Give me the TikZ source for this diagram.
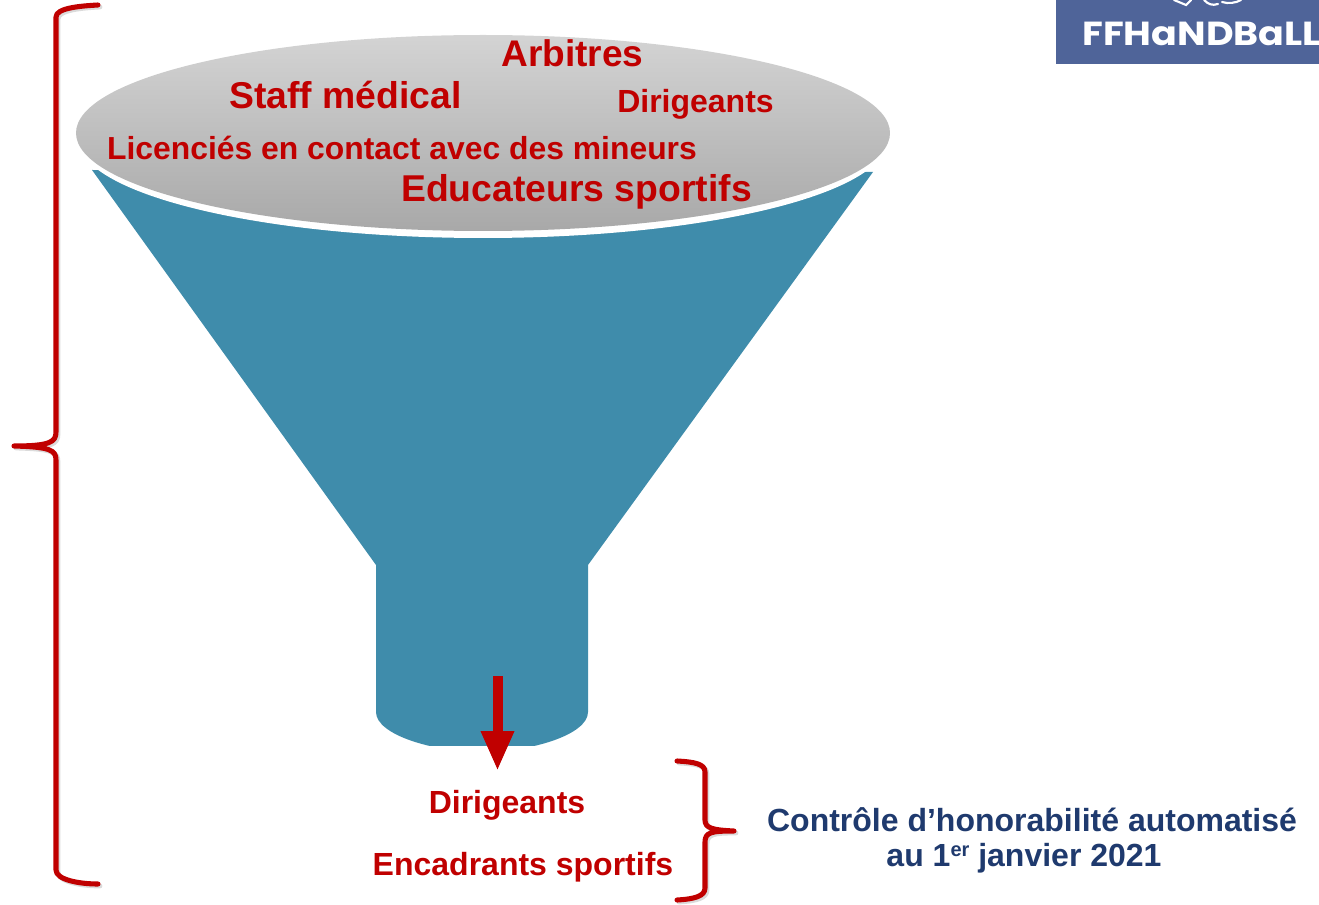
\documentclass[tikz,border=0pt]{standalone}
\usepackage{fontspec}
\setmainfont{Liberation Sans}
\newfontfamily\logofont{Poppins}
\usetikzlibrary{arrows.meta}
\definecolor{fred}{HTML}{C00000}
\definecolor{fblue}{HTML}{3F8CAB}
\definecolor{fnavy}{HTML}{1F3A6E}
\definecolor{flogo}{HTML}{4F6499}
\newcommand{\fsz}[1]{\fontsize{#1}{#1}\selectfont\bfseries}
\tikzset{
  x=0.75pt,y=-0.75pt,
  lab/.style={inner sep=0pt,text=fred,anchor=base},
  bracepath/.style={draw=fred,line width=3.8pt,line join=round,line cap=round},
  braceshadow/.style={draw=black!14,line width=3.6pt,line join=round,line cap=round},
}
\begin{document}
\begin{tikzpicture}
\useasboundingbox (0,0) rectangle (1319,905);
% logo
\fill[flogo] (1056,0) rectangle (1319,64);
\draw[white,line width=1.6pt,line cap=round] (1174,0) -- (1186,5) -- (1191,0);
\draw[white,line width=1.6pt,line cap=round] (1204,0) .. controls (1208,4) and (1212,6) .. (1218,4);
\draw[white,line width=1.6pt,line cap=round] (1222,2) .. controls (1228,4) and (1236,3) .. (1241,0);
\begin{scope}
\clip (1056,0) rectangle (1319,64);
\node[inner sep=0pt,anchor=base west,text=white] (logo) at (1082,46) {\scalebox{1.14}[1]{\logofont\fontsize{25}{25}\selectfont\bfseries FFHaNDBaLL}};
\end{scope}
% funnel
\begin{scope}
\clip (0,0) rectangle (1319,745);
\fill[fblue] (92,170) -- (873,172) -- (588,565) -- (588,712)
  .. controls (588,735) and (530,752) .. (482,752)
  .. controls (434,752) and (376,735) .. (376,712)
  -- (376,565) -- cycle;
\end{scope}
\fill[white] (483,139) ellipse [x radius=405,y radius=99];
\shade[top color=black!17,bottom color=black!34] (483,133) ellipse [x radius=407,y radius=98];
% texts
\node[lab] (arb) at (572.5,67) {\fsz{27.8}Arbitres};
\node[lab] (staff) at (345.5,109) {\fsz{28}Staff médical};
\node[lab] (dir) at (695.5,113) {\fsz{24}Dirigeants};
\node[lab] (lic) at (402,160) {\fsz{23.9}Licenciés en contact avec des mineurs};
\node[lab] (edu) at (576.5,202) {\fsz{28}Educateurs sportifs};
\node[lab] (dir2) at (507,813) {\fsz{24}Dirigeants};
\node[lab] (enc) at (523,875) {\fsz{24}Encadrants sportifs};
\node[inner sep=0pt,text=fnavy,align=center,anchor=base] (ctrl) at (1032,831)
  {\fsz{24}Contrôle d’honorabilité automatisé};
\node[inner sep=0pt,text=fnavy,anchor=base] (date) at (1024,866)
  {\fsz{24}au 1\raisebox{0.55ex}{\fontsize{15}{15}\selectfont er} janvier 2021};
% arrow
\coordinate (arrowtop) at (497.5,676);
\coordinate (arrowend) at (497.5,771);
\draw[fred,line width=7.5pt,-{Triangle[length=30pt,width=23pt]}] (arrowtop) -- (arrowend);
% braces
\foreach \st/\dx in {braceshadow/2,bracepath/0}{
\draw[\st,xshift=\dx*0.75pt,yshift=-\dx*0.75pt] (98,5) .. controls (80,6) and (56,8) .. (56,17) -- (56,432)
  .. controls (56,442) and (50,446) .. (14,446)
  .. controls (50,447) and (56,450) .. (56,460) -- (56,870)
  .. controls (56,880) and (80,884) .. (98,884);
\draw[\st,xshift=\dx*0.75pt,yshift=-\dx*0.75pt] (677,761) .. controls (695,762) and (705,764) .. (705,772) -- (705,820)
  .. controls (705,828) and (712,830) .. (734,831)
  .. controls (712,831) and (705,832) .. (705,842) -- (705,888)
  .. controls (705,896) and (695,899) .. (677,900);
}
\end{tikzpicture}
\end{document}
